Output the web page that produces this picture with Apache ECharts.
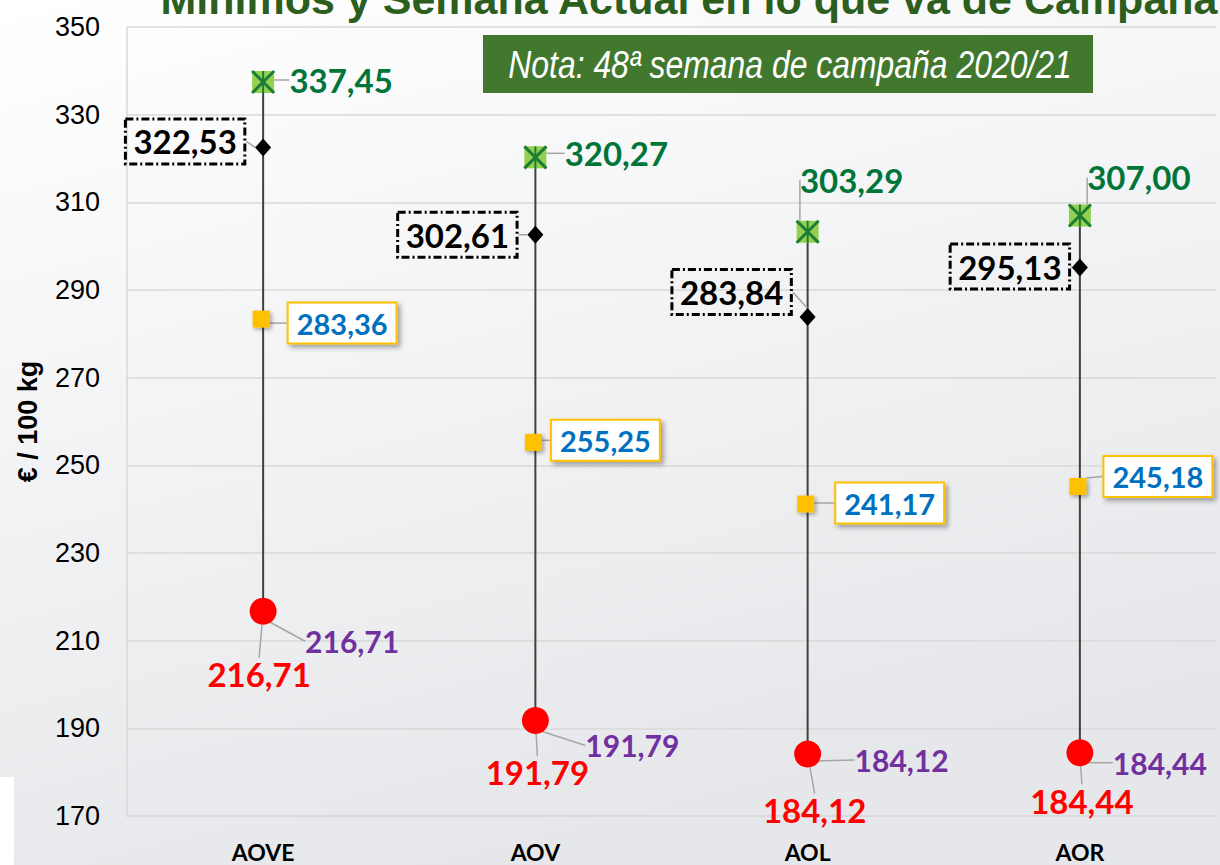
<!DOCTYPE html>
<html><head><meta charset="utf-8">
<script src="https://cdn.jsdelivr.net/npm/echarts@6/dist/echarts.min.js"></script>
<style>html,body{margin:0;padding:0;}#chart{width:1220px;height:865px;}</style>
</head><body><div id="chart"></div>
<script>
// ---- data ----
const categories = ['AOVE', 'AOV', 'AOL', 'AOR'];
const maxValues = [337.45, 320.27, 303.29, 307.00];
const currentValues = [322.53, 302.61, 283.84, 295.13];
const yellowValues = [283.36, 255.25, 241.17, 245.18];
const minValues = [216.71, 191.79, 184.12, 184.44];
const minValuesPurple = [216.71, 191.79, 184.12, 184.44];
const yMin = 170, yMax = 350, yInterval = 20;
const titleText = 'Mínimos y Semana Actual en lo que va de Campaña';
const noteText = 'Nota: 48ª semana de campaña 2020/21';
const yAxisName = '€ / 100 kg';

// ---- label offsets (style) ----
const OFF = {
  max: [[78, -2], [81, -4], [44, -52], [59, -38]],
  cur: [[-78, -6], [-78, 0], [-76, -25], [-70, -1]],
  yel: [[81, 4], [72, -2], [84, -1], [80, -10]],
  red: [[-4, 63], [2, 52], [7, 56], [2, 48]],
  pur: [[89, 21], [97, 16], [94, -3], [80, 1]]
};
const fmt = v => v.toFixed(2).replace('.', ',');
const LBL = 'Lato, "Open Sans", sans-serif';
const leader = { show: true, lineStyle: { color: '#A6A6A6', width: 1.5, opacity: 1 } };
const layoutFor = key => p => ({ dx: OFF[key][p.dataIndex][0], dy: OFF[key][p.dataIndex][1] });
const noFade = { disabled: true };

const chart = echarts.init(document.getElementById('chart'), null, { renderer: 'svg' });
chart.setOption({
  animation: false,
  backgroundColor: {
    type: 'linear', x: 0, y: 0, x2: 0.35, y2: 1,
    colorStops: [{ offset: 0, color: '#ffffff' }, { offset: 1, color: '#e6e7ea' }]
  },
  grid: { left: 127, right: 4, top: 27, bottom: 49, containLabel: false, outerBoundsMode: 'none' },
  graphic: [
    { type: 'rect', left: 0, top: 777, shape: { width: 14, height: 88 }, style: { fill: '#ffffff' }, z: 100 },
    { type: 'text', x: 689, y: 20, z: 100,
      style: { text: titleText, fill: '#2C5E1E', font: 'bold 43px "Liberation Sans", Arial, sans-serif',
               textAlign: 'center', textVerticalAlign: 'bottom' } },
    { type: 'rect', shape: { x: 483, y: 35, width: 610, height: 58 }, style: { fill: '#41782E' }, z: 100 },
    { type: 'text', x: 790, y: 64, scaleX: 0.84, z: 101,
      style: { text: noteText, fill: '#ffffff', font: 'italic 38px "Liberation Sans", Arial, sans-serif',
               textAlign: 'center', textVerticalAlign: 'middle' } }
  ],
  xAxis: {
    type: 'category', data: categories, boundaryGap: true,
    axisTick: { show: false },
    axisLine: { show: true, lineStyle: { color: '#d9d9d9', width: 1.5 } },
    axisLabel: { color: '#000', fontFamily: LBL, fontWeight: 'bold', fontSize: 23, margin: 24 },
    splitLine: { show: false }
  },
  yAxis: {
    type: 'value', min: yMin, max: yMax, interval: yInterval,
    name: yAxisName, nameLocation: 'middle', nameGap: 86, nameRotate: 90,
    nameTextStyle: { color: '#000', fontFamily: '"Liberation Sans", Arial, sans-serif', fontWeight: 'bold', fontSize: 27 },
    axisLine: { show: true, lineStyle: { color: '#d9d9d9', width: 1.5 } },
    axisTick: { show: false },
    axisLabel: { color: '#000', fontFamily: '"Liberation Sans", Arial, sans-serif', fontSize: 27, margin: 27 },
    splitLine: { show: true, lineStyle: { color: '#d9d9d9', width: 1.5 } }
  },
  series: [
    { // high-low line
      type: 'custom', z: 1, silent: true,
      data: categories.map((c, i) => [i, maxValues[i], minValues[i]]),
      encode: { x: 0, y: [1, 2] },
      renderItem: (params, api) => {
        const a = api.coord([api.value(0), api.value(1)]);
        const b = api.coord([api.value(0), api.value(2)]);
        return { type: 'line', shape: { x1: a[0], y1: a[1], x2: b[0], y2: b[1] },
                 style: { stroke: '#404040', lineWidth: 2 } };
      }
    },
    { // purple-labelled minimum (navy dash marker)
      type: 'scatter', z: 2, data: minValuesPurple, emphasis: noFade,
      symbol: 'rect', symbolSize: [14, 4], symbolOffset: [0, 9],
      itemStyle: { color: '#1F3864', opacity: 1 },
      label: { show: true, position: 'inside', formatter: p => fmt(p.value), opacity: 1,
               color: '#7030A0', fontFamily: LBL, fontWeight: 'bold', fontSize: 30 },
      labelLayout: layoutFor('pur'), labelLine: leader
    },
    { // red minimum
      type: 'scatter', z: 3, data: minValues, emphasis: noFade,
      symbol: 'circle', symbolSize: 27,
      itemStyle: { color: '#FF0000', opacity: 1 },
      label: { show: true, position: 'inside', formatter: p => fmt(p.value), opacity: 1,
               color: '#FF0000', fontFamily: LBL, fontWeight: 'bold', fontSize: 33 },
      labelLayout: layoutFor('red'), labelLine: leader
    },
    { // yellow
      type: 'scatter', z: 4, data: yellowValues, emphasis: noFade,
      symbol: 'rect', symbolSize: 17, symbolOffset: [-2, 0],
      itemStyle: { color: '#FFC000', opacity: 1, shadowColor: 'rgba(0,0,0,0.35)', shadowBlur: 4, shadowOffsetX: 2, shadowOffsetY: 2 },
      label: { show: true, position: 'inside', formatter: p => fmt(p.value), opacity: 1,
               color: '#0070C0', fontFamily: LBL, fontWeight: 'bold', fontSize: 29,
               backgroundColor: '#ffffff', borderColor: '#FFC000', borderWidth: 2,
               padding: [6, 8, 4, 8],
               shadowColor: 'rgba(0,0,0,0.35)', shadowBlur: 5, shadowOffsetX: 3, shadowOffsetY: 3 },
      labelLayout: layoutFor('yel'), labelLine: leader
    },
    { // current week diamond
      type: 'scatter', z: 5, data: currentValues, emphasis: noFade,
      symbol: 'diamond', symbolSize: [16, 18],
      itemStyle: { color: '#000000', opacity: 1 },
      label: { show: true, position: 'inside', formatter: p => fmt(p.value), opacity: 1,
               color: '#000000', fontFamily: LBL, fontWeight: 'bold', fontSize: 33,
               backgroundColor: 'rgba(255,255,255,0)', borderColor: '#000000', borderWidth: 1.5,
               borderType: [8, 3, 2, 3], padding: [7, 8, 5, 8] },
      labelLayout: layoutFor('cur'), labelLine: leader
    },
    { // maximum green square
      type: 'scatter', z: 6, data: maxValues, emphasis: noFade,
      symbol: 'rect', symbolSize: 22,
      itemStyle: { color: '#92D050', opacity: 1 },
      label: { show: true, position: 'inside', formatter: p => fmt(p.value), opacity: 1,
               color: '#00753A', fontFamily: LBL, fontWeight: 'bold', fontSize: 33 },
      labelLayout: layoutFor('max'), labelLine: leader
    },
    { // asterisk over maximum marker
      type: 'custom', z: 7, silent: true,
      data: categories.map((c, i) => [i, maxValues[i]]),
      encode: { x: 0, y: 1 },
      renderItem: (params, api) => {
        const p = api.coord([api.value(0), api.value(1)]);
        const h = 11;
        const st = { stroke: '#1E7B34', lineWidth: 3 };
        return { type: 'group', children: [
          { type: 'line', shape: { x1: p[0] - h, y1: p[1] - h, x2: p[0] + h, y2: p[1] + h }, style: st },
          { type: 'line', shape: { x1: p[0] - h, y1: p[1] + h, x2: p[0] + h, y2: p[1] - h }, style: st },
          { type: 'line', shape: { x1: p[0], y1: p[1] - h, x2: p[0], y2: p[1] + h }, style: { stroke: '#1E7B34', lineWidth: 2 } }
        ] };
      }
    }
  ]
});
</script></body></html>
